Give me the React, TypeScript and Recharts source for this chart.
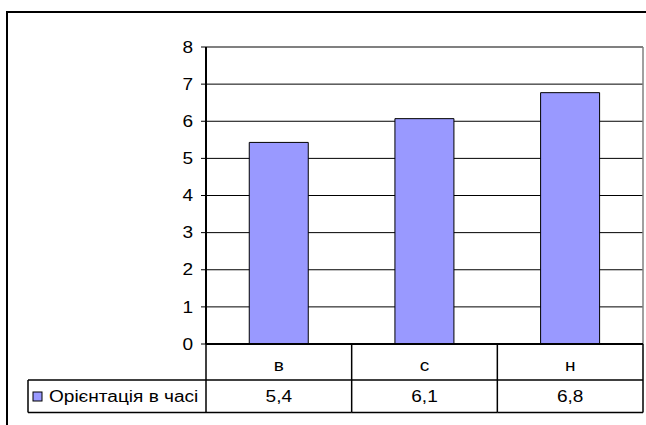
import { BarChart, Bar, XAxis, YAxis, CartesianGrid, ReferenceLine } from 'recharts';

const categories = ['в', 'с', 'н'];
const values = [5.43, 6.07, 6.77];
const seriesName = 'Орієнтація в часі';
const yTicks = [0, 1, 2, 3, 4, 5, 6, 7, 8];

const data = categories.map((name, i) => ({ name, value: values[i] }));

const FONT = '"Liberation Sans", Arial, sans-serif';
const BAR_FILL = '#9999FF';
const SX = 1.19; // the original text is stretched sideways
const W = 646;
const H = 425;
const PLOT_LEFT = 206;
const PLOT_TOP = 47;
const PLOT_RIGHT = 643;
const PLOT_BOTTOM = 344;
const YAXIS_W = 60;
const ROW1 = 36;
const ROW2 = 32.5;
const XAXIS_H = 69;
const LEGEND_LEFT = 28;
const BAND_HALF = (PLOT_RIGHT - PLOT_LEFT) / categories.length / 2;

const fmt = (v: number) => v.toFixed(1).replace('.', ',');

function SText({ x, y, anchor, children }: { x: number; y: number; anchor: string; children: any }) {
  return (
    <text
      transform={`translate(${x},${y}) scale(${SX},1)`}
      textAnchor={anchor}
      fontFamily={FONT}
      fontSize={16}
      fill="#000"
    >
      {children}
    </text>
  );
}

const renderYTick = (props: any) => {
  const { x, y, payload } = props;
  return <SText x={x} y={y + 5.7} anchor="end">{payload.value}</SText>;
};

const renderTableTick = (props: any) => {
  const { x, y, payload, index } = props;
  const half = payload.offset > 0 ? payload.offset : BAND_HALF;
  const left = x - half;
  const right = x + half;
  const mid = y + ROW1;
  const bottom = y + ROW1 + ROW2;
  const line = { stroke: '#000', strokeWidth: 1.5 };
  return (
    <g>
      <line x1={right} y1={y} x2={right} y2={bottom} {...line} />
      <line x1={left} y1={mid} x2={right} y2={mid} {...line} />
      <line x1={left} y1={bottom} x2={right} y2={bottom} {...line} />
      {index === 0 && (
        <g>
          <line x1={left} y1={y} x2={left} y2={bottom} {...line} />
          <line x1={LEGEND_LEFT} y1={mid} x2={left} y2={mid} {...line} />
          <line x1={LEGEND_LEFT} y1={bottom} x2={left} y2={bottom} {...line} />
          <line x1={LEGEND_LEFT} y1={mid} x2={LEGEND_LEFT} y2={bottom} {...line} />
          <rect x={33} y={mid + 12} width={9} height={9} fill={BAR_FILL} stroke="#000" strokeWidth={1} />
          <SText x={49} y={mid + 21.5} anchor="start">{seriesName}</SText>
        </g>
      )}
      <SText x={x} y={y + 26.5} anchor="middle">{payload.value}</SText>
      <SText x={x} y={mid + 22} anchor="middle">{fmt(values[index])}</SText>
    </g>
  );
};

export default function App() {
  return (
    <div style={{ position: 'relative', width: W, height: H, overflow: 'hidden', background: '#fff' }}>
      <style>{'body{margin:0}'}</style>
      <div
        style={{
          position: 'absolute', left: 6, top: 11, width: 700, height: 500,
          border: '2px solid #000',
        }}
      />
      <div style={{ position: 'absolute', left: 0, top: 0 }}>
        <BarChart
          width={W}
          height={H}
          data={data}
          barCategoryGap="29.7%"
          margin={{
            top: PLOT_TOP,
            right: W - PLOT_RIGHT,
            left: PLOT_LEFT - YAXIS_W,
            bottom: H - PLOT_BOTTOM - XAXIS_H,
          }}
        >
          <CartesianGrid vertical={false} stroke="#000" strokeWidth={1} />
          <CartesianGrid
            horizontal={false}
            stroke="#808080"
            strokeWidth={1.5}
            verticalCoordinatesGenerator={({ offset }: any) => [offset.left + offset.width]}
          />
          <YAxis
            width={YAXIS_W}
            domain={[0, 8]}
            ticks={yTicks}
            interval={0}
            tickSize={5}
            tickMargin={8}
            axisLine={{ stroke: '#000', strokeWidth: 2 }}
            tickLine={{ stroke: '#000', strokeWidth: 1 }}
            tick={renderYTick}
          />
          <XAxis
            dataKey="name"
            height={XAXIS_H}
            interval={0}
            tickSize={0}
            tickMargin={0}
            tickLine={false}
            axisLine={{ stroke: '#000', strokeWidth: 2 }}
            tick={renderTableTick}
          />
          <ReferenceLine y={8} stroke="#808080" strokeWidth={1.5} />
          <Bar
            dataKey="value"
            fill={BAR_FILL}
            stroke="#000"
            strokeWidth={1}
            isAnimationActive={false}
          />
        </BarChart>
      </div>
    </div>
  );
}
